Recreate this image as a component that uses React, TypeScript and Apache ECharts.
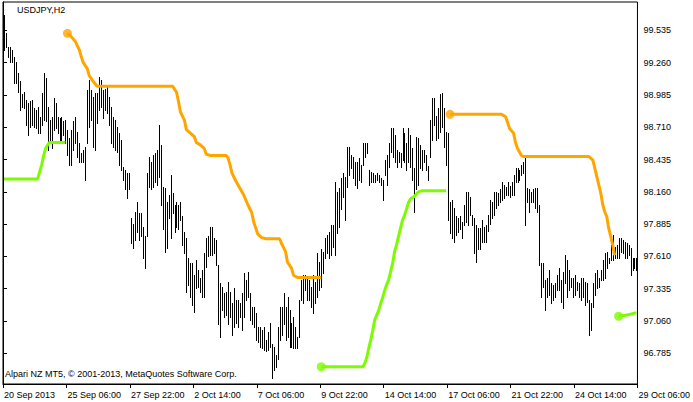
import React, { useEffect, useRef } from "react";
import * as echarts from "echarts";

// ---- data (USDJPY H2, bar highs/lows, one entry per bar) ----
const highs: number[] = [
  99.67, 99.51, 99.39, 99.39, 99.37, 99.31, 99.27, 99.17, 99.10, 98.99,
  99.01, 98.94, 98.92, 98.93, 98.94, 98.87, 98.86, 98.88, 98.80, 99.00,
  99.17, 99.13, 98.88, 98.77, 98.80, 98.96, 98.92, 98.80, 98.79, 98.80,
  98.76, 98.77, 98.69, 98.62, 98.69, 98.76, 98.80, 98.67, 98.58, 98.49,
  98.52, 98.54, 99.03, 99.11, 99.03, 98.97, 99.00, 99.00, 99.14, 99.11,
  99.03, 99.04, 99.05, 98.97, 98.88, 98.80, 98.77, 98.71, 98.66, 98.60,
  98.37, 98.35, 98.32, 98.32, 97.94, 97.89, 97.99, 98.07, 97.98, 97.98,
  97.86, 97.78, 98.32, 98.46, 98.41, 98.47, 98.49, 98.52, 98.73, 98.56,
  98.20, 98.19, 98.07, 98.13, 98.30, 98.15, 98.05, 98.07, 98.05, 98.07,
  97.95, 97.82, 97.77, 97.60, 97.55, 97.55, 97.45, 97.58, 97.49, 97.43,
  97.49, 97.64, 97.77, 97.78, 97.86, 97.86, 97.77, 97.75, 97.54, 97.38,
  97.35, 97.30, 97.31, 97.39, 97.31, 97.21, 97.34, 97.24, 97.24, 97.21,
  97.30, 97.47, 97.41, 97.48, 97.30, 97.18, 97.18, 97.13, 97.01, 97.01,
  96.98, 97.01, 96.90, 96.97, 97.04, 96.86, 96.84, 96.77, 97.01, 97.18,
  97.18, 97.30, 97.18, 97.26, 97.15, 97.04, 97.09, 97.01, 96.92, 97.24,
  97.41, 97.45, 97.45, 97.43, 97.41, 97.35, 97.45, 97.39, 97.64, 97.56,
  97.67, 97.65, 97.77, 97.79, 97.82, 97.88, 97.88, 98.24, 98.16, 98.19,
  98.28, 98.32, 98.29, 98.54, 98.54, 98.47, 98.46, 98.41, 98.41, 98.45,
  98.39, 98.58, 98.58, 98.58, 98.35, 98.33, 98.32, 98.30, 98.32, 98.30,
  98.28, 98.26, 98.43, 98.47, 98.58, 98.70, 98.70, 98.64, 98.52, 98.50,
  98.49, 98.70, 98.66, 98.58, 98.70, 98.64, 98.53, 98.36, 98.63, 98.62,
  98.56, 98.52, 98.52, 98.47, 98.38, 98.77, 98.96, 98.96, 98.81, 98.87,
  98.99, 99.00, 98.87, 98.67, 98.66, 98.07, 98.09, 98.02, 97.95, 97.94,
  97.95, 97.90, 98.05, 98.16, 98.16, 98.12, 97.96, 97.94, 97.88, 97.85,
  97.85, 97.92, 97.86, 97.88, 97.96, 98.09, 98.07, 98.16, 98.16, 98.15,
  98.18, 98.24, 98.22, 98.20, 98.24, 98.21, 98.24, 98.30, 98.36, 98.36,
  98.35, 98.39, 98.41, 98.47, 98.19, 98.18, 98.16, 98.18, 98.19, 98.19,
  98.05, 97.55, 97.55, 97.41, 97.43, 97.49, 97.38, 97.37, 97.38, 97.45,
  97.51, 97.41, 97.48, 97.62, 97.58, 97.49, 97.43, 97.43, 97.45, 97.39,
  97.38, 97.43, 97.43, 97.39, 97.38, 97.24, 97.21, 97.38, 97.47, 97.49,
  97.43, 97.49, 97.58, 97.64, 97.65, 97.60, 97.71, 97.79, 97.69, 97.71,
  97.77, 97.77, 97.75, 97.73, 97.72, 97.71, 97.68, 97.60, 97.60, 97.60,
];

const lows: number[] = [
  99.37, 99.39, 99.31, 99.27, 99.27, 99.09, 99.09, 99.01, 98.86, 98.88,
  98.87, 98.73, 98.64, 98.71, 98.73, 98.71, 98.70, 98.66, 98.66, 98.73,
  98.77, 98.76, 98.52, 98.58, 98.53, 98.69, 98.70, 98.66, 98.58, 98.58,
  98.64, 98.58, 98.47, 98.39, 98.39, 98.52, 98.58, 98.46, 98.41, 98.41,
  98.41, 98.26, 98.58, 98.71, 98.77, 98.54, 98.52, 98.75, 98.86, 98.88,
  98.79, 98.86, 98.83, 98.73, 98.58, 98.54, 98.52, 98.50, 98.39, 98.35,
  98.26, 98.18, 98.11, 98.18, 97.72, 97.68, 97.75, 97.82, 97.75, 97.78,
  97.60, 97.51, 97.78, 98.20, 98.18, 98.20, 98.24, 98.22, 98.29, 98.05,
  97.84, 97.65, 97.68, 97.94, 97.77, 97.98, 97.82, 97.86, 97.84, 97.92,
  97.71, 97.64, 97.31, 97.37, 97.26, 97.20, 97.14, 97.34, 97.35, 97.31,
  97.26, 97.26, 97.52, 97.61, 97.62, 97.62, 97.64, 97.54, 97.03, 96.92,
  97.15, 97.09, 97.11, 97.03, 97.09, 96.94, 97.01, 97.04, 97.01, 97.09,
  96.98, 97.09, 97.24, 97.26, 97.07, 97.03, 97.01, 96.90, 96.88, 96.84,
  96.83, 96.81, 96.80, 96.81, 96.84, 96.57, 96.64, 96.67, 96.74, 96.90,
  96.94, 97.03, 96.90, 96.92, 96.84, 96.84, 96.83, 96.83, 96.83, 96.92,
  97.24, 97.21, 97.32, 97.24, 97.24, 97.18, 97.13, 97.21, 97.26, 97.32,
  97.35, 97.47, 97.60, 97.64, 97.60, 97.62, 97.69, 97.62, 97.81, 97.86,
  98.01, 98.12, 97.92, 98.20, 98.30, 98.36, 98.28, 98.22, 98.19, 98.26,
  98.24, 98.39, 98.46, 98.49, 98.22, 98.24, 98.24, 98.24, 98.26, 98.24,
  98.22, 98.09, 98.30, 98.22, 98.37, 98.50, 98.46, 98.41, 98.37, 98.41,
  98.37, 98.43, 98.41, 98.35, 98.41, 98.37, 98.26, 97.99, 98.18, 98.22,
  98.36, 98.35, 98.41, 98.35, 98.26, 98.46, 98.60, 98.73, 98.60, 98.62,
  98.67, 98.71, 98.54, 98.39, 97.92, 97.81, 97.77, 97.73, 97.79, 97.82,
  97.84, 97.77, 97.88, 97.90, 97.88, 97.96, 97.88, 97.64, 97.56, 97.67,
  97.67, 97.73, 97.73, 97.73, 97.83, 97.89, 97.94, 97.96, 98.02, 98.05,
  98.07, 98.09, 98.11, 98.13, 98.13, 98.12, 98.13, 98.13, 98.24, 98.24,
  98.26, 98.30, 98.32, 97.88, 98.07, 97.99, 98.07, 98.07, 98.02, 97.99,
  97.54, 97.26, 97.35, 97.15, 97.26, 97.28, 97.21, 97.24, 97.26, 97.32,
  97.32, 97.22, 97.17, 97.38, 97.26, 97.32, 97.35, 97.26, 97.28, 97.32,
  97.26, 97.24, 97.26, 97.20, 97.22, 96.94, 96.98, 97.18, 97.28, 97.34,
  97.35, 97.41, 97.41, 97.43, 97.51, 97.55, 97.58, 97.58, 97.60, 97.60,
  97.60, 97.65, 97.64, 97.60, 97.60, 97.62, 97.45, 97.49, 97.51, 97.49,
];

// trailing-stop indicator segments: [bar index, price]
const orangeA: [number, number][] = [
  [32, 99.51], [34, 99.48], [36, 99.44], [38, 99.37], [39, 99.31], [40, 99.26],
  [42, 99.21], [43, 99.15], [45, 99.10], [47, 99.06], [85, 99.06], [87, 99.01],
  [88, 98.93], [89, 98.84], [91, 98.77], [92, 98.69], [94, 98.66], [96, 98.63],
  [97, 98.58], [99, 98.56], [101, 98.53], [102, 98.48], [104, 98.47], [112, 98.47],
  [113, 98.45], [114, 98.39], [115, 98.32], [117, 98.25], [119, 98.19], [121, 98.13],
  [123, 98.05], [125, 97.98], [126, 97.90], [128, 97.80], [130, 97.77], [132, 97.76],
  [139, 97.76], [140, 97.72], [142, 97.65], [143, 97.56], [145, 97.51], [146, 97.45],
  [148, 97.43], [160, 97.43],
];
const orangeB: [number, number][] = [
  [225, 98.82], [251, 98.82], [253, 98.80], [254, 98.75], [255, 98.70], [257, 98.66],
  [258, 98.58], [259, 98.53], [261, 98.47], [262, 98.46], [295, 98.46], [297, 98.43],
  [298, 98.36], [299, 98.29], [300, 98.22], [301, 98.15], [302, 98.05], [303, 97.99],
  [304, 97.95], [305, 97.85], [306, 97.78], [307, 97.71], [308, 97.62],
];
const greenA: [number, number][] = [
  [0, 98.27], [17, 98.27], [18, 98.33], [19, 98.39], [20, 98.47], [21, 98.53],
  [22, 98.56], [23, 98.58], [31, 98.58],
];
const greenB: [number, number][] = [
  [160, 96.67], [181, 96.67], [182, 96.70], [183, 96.75], [184, 96.83], [185, 96.90],
  [186, 96.98], [187, 97.07], [188, 97.11], [189, 97.15], [190, 97.21], [191, 97.26],
  [192, 97.32], [193, 97.37], [194, 97.41], [195, 97.48], [196, 97.55], [197, 97.65],
  [198, 97.71], [199, 97.78], [200, 97.85], [201, 97.92], [202, 97.96], [203, 98.01],
  [204, 98.07], [205, 98.10], [207, 98.12], [209, 98.16], [211, 98.17], [223, 98.17],
];
const greenC: [number, number][] = [[310, 97.10], [314, 97.11], [319, 97.13]];

const yTicks = [96.785, 97.06, 97.335, 97.61, 97.885, 98.16, 98.435, 98.71, 98.985, 99.26, 99.535];
const xTickLabels = [
  "20 Sep 2013", "25 Sep 06:00", "27 Sep 22:00", "2 Oct 14:00", "7 Oct 06:00",
  "9 Oct 22:00", "14 Oct 14:00", "17 Oct 06:00", "21 Oct 22:00", "24 Oct 14:00", "29 Oct 06:00",
];
const barsPerLabel = 32;
const totalSlots = 320;
const yMin = 96.523;
const yMax = 99.777;

const FONT = "Liberation Sans, Arial, sans-serif";
const ORANGE = "#FFA500";
const GREEN = "#7CFC00";

const toXY = (pts: [number, number][]) => pts.map(([i, p]) => [i + 0.5, p]);

export default function App() {
  const ref = useRef<HTMLDivElement>(null);
  useEffect(() => {
    if (!ref.current) return;
    const chart = echarts.init(ref.current, undefined, { renderer: "svg" });
    const lineSeries = (pts: [number, number][], color: string) => ({
      type: "line",
      data: toXY(pts),
      showSymbol: false,
      symbol: "none",
      lineStyle: { color, width: 3 },
      itemStyle: { color },
      z: 5,
      silent: true,
    });
    const dotSeries = (pts: [number, number][], color: string) => ({
      type: "scatter",
      data: toXY(pts),
      symbolSize: 9,
      itemStyle: { color },
      z: 6,
      silent: true,
    });
    chart.setOption({
      animation: false,
      backgroundColor: "#ffffff",
      textStyle: { fontFamily: FONT },
      grid: {
        left: 3,
        top: 2,
        width: 640,
        height: 382,
        show: true,
        borderColor: "#000",
        borderWidth: 1,
        backgroundColor: "#fff",
      },
      xAxis: {
        type: "value",
        min: 0,
        max: totalSlots,
        interval: barsPerLabel,
        axisLine: { show: true, lineStyle: { color: "#000", width: 1 } },
        axisTick: { show: true, length: 4, lineStyle: { color: "#000" } },
        splitLine: { show: false },
        axisLabel: {
          show: true,
          color: "#000",
          fontSize: 9,
          fontFamily: FONT,
          align: "left",
          margin: 6,
          padding: [0, 0, 0, 1],
          formatter: (v: number) => xTickLabels[Math.round(v / barsPerLabel)] ?? "",
        },
      },
      yAxis: {
        type: "value",
        position: "right",
        min: yMin,
        max: yMax,
        scale: true,
        axisLine: { show: true, lineStyle: { color: "#000", width: 1 } },
        axisTick: { show: true, length: 4, customValues: yTicks, lineStyle: { color: "#000" } },
        splitLine: { show: false },
        axisLabel: {
          show: true,
          color: "#000",
          fontSize: 9,
          fontFamily: FONT,
          margin: 6,
          customValues: yTicks,
          formatter: (v: number) => v.toFixed(3),
        },
      },
      graphic: [
        {
          type: "text",
          left: 17,
          top: 5,
          style: { text: "USDJPY,H2", fill: "#000", font: `9px ${FONT}` },
          z: 10,
        },
        {
          type: "text",
          left: 5,
          top: 369,
          style: {
            text: "Alpari NZ MT5, \u00A9 2001-2013, MetaQuotes Software Corp.",
            fill: "#000",
            font: `9px ${FONT}`,
          },
          z: 10,
        },
      ],
      series: [
        {
          type: "custom",
          silent: true,
          clip: false,
          z: 2,
          data: highs.map((h, i) => [i + 0.5, lows[i], h]),
          encode: { x: 0, y: [1, 2] },
          renderItem: (_params: any, api: any) => {
            const x = api.value(0);
            const lo = api.coord([x, api.value(1)]);
            const hi = api.coord([x, api.value(2)]);
            const px = Math.round(lo[0]) + 0.5;
            return {
              type: "line",
              shape: { x1: px, y1: Math.round(hi[1]), x2: px, y2: Math.round(lo[1]) + 1 },
              style: { stroke: "#000", lineWidth: 1 },
            };
          },
        },
        lineSeries(orangeA, ORANGE),
        lineSeries(orangeB, ORANGE),
        lineSeries(greenA, GREEN),
        lineSeries(greenB, GREEN),
        lineSeries(greenC, GREEN),
        dotSeries([orangeA[0], orangeB[0]], ORANGE),
        dotSeries([greenB[0], greenC[0]], GREEN),
      ],
    });
    return () => chart.dispose();
  }, []);
  return (
    <div
      ref={ref}
      style={{ position: "fixed", left: 0, top: 0, width: 693, height: 402, background: "#fff" }}
    />
  );
}
